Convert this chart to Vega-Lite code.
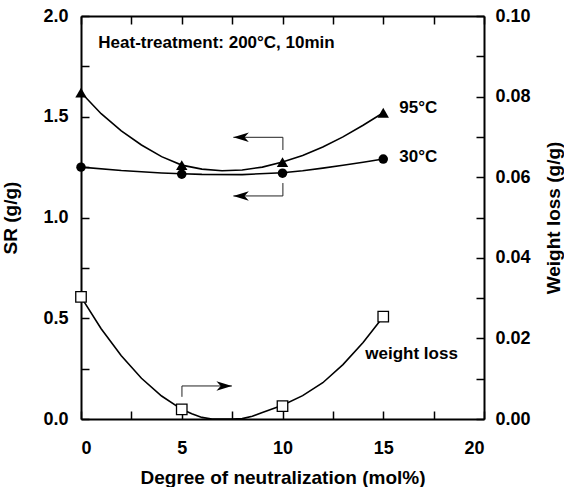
{
  "$schema": "https://vega.github.io/schema/vega-lite/v6.json",
  "width": 403,
  "height": 403,
  "autosize": "none",
  "padding": {"left": 81, "top": 16, "right": 80, "bottom": 68},
  "background": "white",
  "config": {
    "view": {"stroke": null},
    "font": "Liberation Sans",
    "axis": {
      "grid": false,
      "domainColor": "black",
      "domainWidth": 2,
      "tickColor": "black",
      "tickWidth": 1.5,
      "tickSize": -8,
      "labelFont": "Liberation Sans",
      "labelFontWeight": "bold",
      "labelFontSize": 18,
      "labelColor": "black",
      "titleFont": "Liberation Sans",
      "titleFontWeight": "bold",
      "titleFontSize": 19,
      "titleColor": "black"
    },
    "text": {"font": "Liberation Sans", "fontWeight": "bold", "fontSize": 17, "color": "black"}
  },
  "datasets": {
    "sr_curve": [
      {"series": "95", "x": 0, "sr": 1.62},
      {"series": "95", "x": 1, "sr": 1.515},
      {"series": "95", "x": 2, "sr": 1.43},
      {"series": "95", "x": 3, "sr": 1.36},
      {"series": "95", "x": 4, "sr": 1.302},
      {"series": "95", "x": 5, "sr": 1.26},
      {"series": "95", "x": 6, "sr": 1.24},
      {"series": "95", "x": 7, "sr": 1.232},
      {"series": "95", "x": 8, "sr": 1.236},
      {"series": "95", "x": 9, "sr": 1.25},
      {"series": "95", "x": 10, "sr": 1.275},
      {"series": "95", "x": 11, "sr": 1.308},
      {"series": "95", "x": 12, "sr": 1.35},
      {"series": "95", "x": 13, "sr": 1.4},
      {"series": "95", "x": 14, "sr": 1.458},
      {"series": "95", "x": 15, "sr": 1.52},
      {"series": "30", "x": 0, "sr": 1.25},
      {"series": "30", "x": 2, "sr": 1.233},
      {"series": "30", "x": 4, "sr": 1.221},
      {"series": "30", "x": 5, "sr": 1.217},
      {"series": "30", "x": 6, "sr": 1.214},
      {"series": "30", "x": 8, "sr": 1.213},
      {"series": "30", "x": 10, "sr": 1.222},
      {"series": "30", "x": 11, "sr": 1.232},
      {"series": "30", "x": 12, "sr": 1.245},
      {"series": "30", "x": 13, "sr": 1.259},
      {"series": "30", "x": 14, "sr": 1.274},
      {"series": "30", "x": 15, "sr": 1.29}
    ],
    "sr_pts": [
      {"series": "95", "x": 0, "sr": 1.62},
      {"series": "95", "x": 5, "sr": 1.26},
      {"series": "95", "x": 10, "sr": 1.275},
      {"series": "95", "x": 15, "sr": 1.52},
      {"series": "30", "x": 0, "sr": 1.25},
      {"series": "30", "x": 5, "sr": 1.215},
      {"series": "30", "x": 10, "sr": 1.22},
      {"series": "30", "x": 15, "sr": 1.29}
    ],
    "sr_arrows": [
      {"id": "a", "k": 1, "x": 7.56, "sr": 1.398},
      {"id": "a", "k": 2, "x": 10.02, "sr": 1.398},
      {"id": "a", "k": 3, "x": 10.02, "sr": 1.335},
      {"id": "b", "k": 1, "x": 7.56, "sr": 1.107},
      {"id": "b", "k": 2, "x": 10.02, "sr": 1.107},
      {"id": "b", "k": 3, "x": 10.02, "sr": 1.171}
    ],
    "sr_heads": [
      {"x": 7.56, "sr": 1.398},
      {"x": 7.56, "sr": 1.107}
    ],
    "sr_labels": [
      {"x": 0.86, "sr": 1.843, "text": "Heat-treatment: 200°C, 10min"},
      {"x": 15.8, "sr": 1.519, "text": "95°C"},
      {"x": 15.8, "sr": 1.277, "text": "30°C"}
    ],
    "wl_curve": [
      {"x": 0, "wl": 0.0303},
      {"x": 1, "wl": 0.0224},
      {"x": 2, "wl": 0.0157},
      {"x": 3, "wl": 0.0101},
      {"x": 4, "wl": 0.0057},
      {"x": 5, "wl": 0.0024},
      {"x": 5.5, "wl": 0.0013},
      {"x": 6, "wl": 0.0004},
      {"x": 6.5, "wl": 0},
      {"x": 7, "wl": 0},
      {"x": 7.5, "wl": 0},
      {"x": 8, "wl": 0.0001},
      {"x": 8.5, "wl": 0.0007},
      {"x": 9, "wl": 0.0016},
      {"x": 10, "wl": 0.0034},
      {"x": 11, "wl": 0.0058},
      {"x": 12, "wl": 0.009},
      {"x": 13, "wl": 0.0135},
      {"x": 14, "wl": 0.019},
      {"x": 15, "wl": 0.0254}
    ],
    "wl_pts": [
      {"x": 0, "wl": 0.0303},
      {"x": 5, "wl": 0.0024},
      {"x": 10, "wl": 0.0032},
      {"x": 15, "wl": 0.0254}
    ],
    "wl_arrow": [
      {"k": 1, "x": 5.01, "wl": 0.0055},
      {"k": 2, "x": 5.01, "wl": 0.0082},
      {"k": 3, "x": 7.49, "wl": 0.0082}
    ],
    "wl_head": [
      {"x": 7.49, "wl": 0.0082}
    ],
    "wl_label": [
      {"x": 14.11, "wl": 0.0149, "text": "weight loss"}
    ]
  },
  "layer": [
    {
      "layer": [
        {
          "data": {"name": "sr_curve"},
          "mark": {"type": "line", "color": "black", "strokeWidth": 1.6},
          "encoding": {
            "x": {
              "field": "x", "type": "quantitative",
              "scale": {"domain": [0, 20], "nice": false, "zero": false},
              "axis": {
                "orient": "bottom",
                "values": [0, 2.5, 5, 7.5, 10, 12.5, 15, 17.5, 20],
                "labelExpr": "datum.value % 5 == 0 ? datum.label : ''",
                "labelPadding": 28,
                "title": "Degree of neutralization (mol%)",
                "titlePadding": 11
              }
            },
            "y": {
              "field": "sr", "type": "quantitative",
              "scale": {"domain": [0, 2], "nice": false},
              "axis": {
                "orient": "left",
                "values": [0, 0.25, 0.5, 0.75, 1, 1.25, 1.5, 1.75, 2],
                "format": ".1f",
                "labelExpr": "datum.value % 0.5 == 0 ? datum.label : ''",
                "labelPadding": 21,
                "title": "SR (g/g)",
                "titlePadding": 22
              }
            },
            "detail": {"field": "series"}
          }
        },
        {
          "data": {"name": "sr_pts"},
          "mark": {"type": "point", "filled": true, "color": "black", "opacity": 1},
          "encoding": {
            "x": {"field": "x", "type": "quantitative"},
            "y": {"field": "sr", "type": "quantitative"},
            "shape": {"field": "series", "type": "nominal", "scale": {"domain": ["95", "30"], "range": ["triangle-up", "circle"]}, "legend": null},
            "size": {"field": "series", "type": "nominal", "scale": {"domain": ["95", "30"], "range": [130, 90]}, "legend": null}
          }
        },
        {
          "data": {"name": "sr_arrows"},
          "mark": {"type": "line", "color": "#222222", "strokeWidth": 1},
          "encoding": {
            "x": {"field": "x", "type": "quantitative"},
            "y": {"field": "sr", "type": "quantitative"},
            "detail": {"field": "id"},
            "order": {"field": "k"}
          }
        },
        {
          "data": {"name": "sr_heads"},
          "mark": {"type": "point", "filled": true, "color": "black", "opacity": 1, "size": 240, "shape": "M0,0L2,-0.62L1.45,0L2,0.62Z"},
          "encoding": {
            "x": {"field": "x", "type": "quantitative"},
            "y": {"field": "sr", "type": "quantitative"}
          }
        },
        {
          "data": {"name": "sr_labels"},
          "mark": {"type": "text", "align": "left", "baseline": "alphabetic"},
          "encoding": {
            "x": {"field": "x", "type": "quantitative"},
            "y": {"field": "sr", "type": "quantitative"},
            "text": {"field": "text"}
          }
        }
      ]
    },
    {
      "layer": [
        {
          "data": {"name": "wl_curve"},
          "mark": {"type": "line", "color": "black", "strokeWidth": 1.6},
          "encoding": {
            "x": {
              "field": "x", "type": "quantitative",
              "axis": {
                "orient": "top",
                "values": [0, 2.5, 5, 7.5, 10, 12.5, 15, 17.5, 20],
                "labels": false,
                "title": null
              }
            },
            "y": {
              "field": "wl", "type": "quantitative",
              "scale": {"domain": [0, 0.1], "nice": false},
              "axis": {
                "orient": "right",
                "values": [0, 0.01, 0.02, 0.03, 0.04, 0.05, 0.06, 0.07, 0.08, 0.09, 0.1],
                "format": ".2f",
                "labelExpr": "round(datum.value * 100) % 2 == 0 ? datum.label : ''",
                "labelPadding": 19,
                "title": "Weight loss (g/g)",
                "titleAngle": -90,
                "titleBaseline": "top",
                "titlePadding": 14
              }
            }
          }
        },
        {
          "data": {"name": "wl_pts"},
          "mark": {"type": "point", "shape": "square", "filled": true, "fill": "white", "stroke": "black", "strokeWidth": 1.3, "opacity": 1, "size": 110},
          "encoding": {
            "x": {"field": "x", "type": "quantitative"},
            "y": {"field": "wl", "type": "quantitative"}
          }
        },
        {
          "data": {"name": "wl_arrow"},
          "mark": {"type": "line", "color": "#222222", "strokeWidth": 1},
          "encoding": {
            "x": {"field": "x", "type": "quantitative"},
            "y": {"field": "wl", "type": "quantitative"},
            "order": {"field": "k"}
          }
        },
        {
          "data": {"name": "wl_head"},
          "mark": {"type": "point", "filled": true, "color": "black", "opacity": 1, "size": 240, "shape": "M0,0L-2,-0.62L-1.45,0L-2,0.62Z"},
          "encoding": {
            "x": {"field": "x", "type": "quantitative"},
            "y": {"field": "wl", "type": "quantitative"}
          }
        },
        {
          "data": {"name": "wl_label"},
          "mark": {"type": "text", "align": "left", "baseline": "alphabetic"},
          "encoding": {
            "x": {"field": "x", "type": "quantitative"},
            "y": {"field": "wl", "type": "quantitative"},
            "text": {"field": "text"}
          }
        }
      ]
    }
  ],
  "resolve": {"scale": {"y": "independent"}, "axis": {"x": "independent"}}
}
